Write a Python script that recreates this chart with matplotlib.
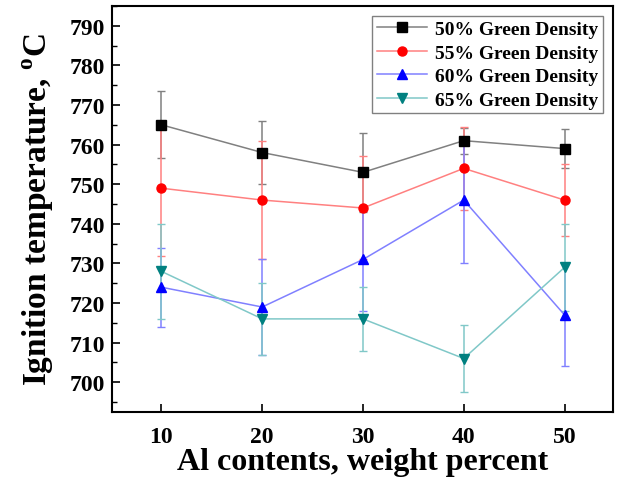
import matplotlib
matplotlib.use("Agg")
import matplotlib.pyplot as plt
from matplotlib.lines import Line2D
from matplotlib.ticker import MultipleLocator

al_wt = [10, 20, 30, 40, 50]

gd50 = [765, 758, 753, 761, 759]
gd50_err = [8.5, 8, 10, 3.3, 5]
gd55 = [749, 746, 744, 754, 746]
gd55_err = [17, 15, 13, 10.5, 9]
gd60 = [724, 719, 731, 746, 717]
gd60_err = [10, 12, 13, 16, 13]
gd65 = [728, 716, 716, 706, 729]
gd65_err = [12, 9, 8, 8.5, 11]

labels = ["50% Green Density", "55% Green Density",
          "60% Green Density", "65% Green Density"]

plt.rcParams["font.family"] = ["Liberation Serif", "DejaVu Serif"]
plt.rcParams["font.weight"] = "bold"
plt.rcParams["mathtext.fontset"] = "custom"
plt.rcParams["mathtext.rm"] = "Liberation Serif:bold"
plt.rcParams["mathtext.bf"] = "Liberation Serif:bold"

fig = plt.figure(figsize=(6.21, 4.85), dpi=100)
ax = fig.add_axes([0.1804, 0.1485, 0.8066, 0.8371])

series = [
    (gd50, gd50_err, "s", "black", "#808080"),
    (gd55, gd55_err, "o", "red", "#ff8080"),
    (gd60, gd60_err, "^", "blue", "#8080ff"),
    (gd65, gd65_err, "v", "#008080", "#80c8c8"),
]
handles = []
for (y, e, m, mc, lc), lab in zip(series, labels):
    ax.errorbar(al_wt, y, yerr=e, fmt="-", color=lc, lw=1.1, capsize=2.8,
                elinewidth=1.1, marker=m, markersize=6.5, mfc=mc, mec=mc)
    handles.append(Line2D([], [], color=lc, lw=1.1, marker=m, markersize=6.5,
                          mfc=mc, mec=mc, label=lab))

ax.set_xlim(5.1, 54.8)
ax.set_ylim(692.5, 795)
ax.xaxis.set_major_locator(MultipleLocator(10))
ax.yaxis.set_major_locator(MultipleLocator(10))
ax.yaxis.set_minor_locator(MultipleLocator(5))
ax.tick_params(axis="both", which="major", direction="in", length=6, width=1.2,
               labelsize=17, pad=5)
ax.tick_params(axis="x", which="major", pad=10)
ax.tick_params(axis="y", which="minor", direction="in", length=3.5, width=1)
for lbl in ax.get_xticklabels() + ax.get_yticklabels():
    lbl.set_fontweight("bold")
for s in ax.spines.values():
    s.set_linewidth(1.5)

ax.set_xlabel("Al contents, weight percent", fontsize=23, fontweight="bold",
              labelpad=0)
ax.set_ylabel(r"Ignition temperature, $^{\mathrm{o}}$C", fontsize=24,
              fontweight="bold", labelpad=10)

leg = ax.legend(handles=handles, loc="upper right",
                prop={"size": 14, "weight": "bold"},
                fancybox=False, edgecolor="#808080", framealpha=1,
                handlelength=2.6, handletextpad=0.4, borderaxespad=0.5,
                labelspacing=0.3, borderpad=0.25)
leg.get_frame().set_linewidth(1)

fig.savefig("out.png", dpi=100)
